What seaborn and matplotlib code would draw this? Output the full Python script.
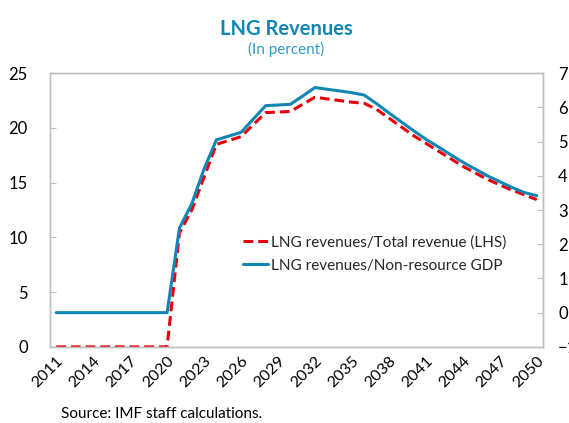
import matplotlib.pyplot as plt
import numpy as np
import pandas as pd
import seaborn as sns
from matplotlib.ticker import FixedLocator

years = list(range(2011, 2051))

# LNG revenues / total revenue (LHS, percent)
total_rev = [0, 0, 0, 0, 0, 0, 0, 0, 0, 0,
             10.4, 12.5, 15.5, 18.5, 18.85, 19.2, 20.3, 21.4, 21.45, 21.5,
             22.15, 22.8, 22.65, 22.5, 22.35, 22.25, 21.7, 20.9, 20.1, 19.3,
             18.6, 17.9, 17.2, 16.5, 15.9, 15.3, 14.8, 14.3, 13.9, 13.45]

# LNG revenues / non-resource GDP (RHS, percent)
nonres_gdp = [0, 0, 0, 0, 0, 0, 0, 0, 0, 0,
              2.47, 3.18, 4.2, 5.05, 5.16, 5.27, 5.66, 6.05, 6.07, 6.09,
              6.33, 6.58, 6.53, 6.48, 6.43, 6.36, 6.11, 5.84, 5.58, 5.32,
              5.07, 4.85, 4.62, 4.40, 4.20, 4.00, 3.83, 3.66, 3.51, 3.42]

df = pd.DataFrame({"year": years, "total": total_rev, "gdp": nonres_gdp})

sns.set_style("white")
plt.rcParams["font.family"] = ["Lato", "DejaVu Sans"]

red = "#E8000B"
blue = "#0F86B4"
grey = "#BFBFBF"

fig = plt.figure(figsize=(5.69, 4.23), dpi=100)
ax = fig.add_axes([0.088, 0.18, 0.866, 0.647])
ax2 = ax.twinx()

sns.lineplot(data=df, x="year", y="total", ax=ax, color=red, lw=2.2,
             linestyle=(0, (3.2, 1.6)), label="LNG revenues/Total revenue (LHS)", legend=False)
sns.lineplot(data=df, x="year", y="gdp", ax=ax2, color=blue, lw=2.2,
             label="LNG revenues/Non-resource GDP", legend=False)

ax.set_xlim(2010.5, 2050.5)
ax.set_ylim(0, 25)
ax2.set_ylim(-1, 7)
ax.set_yticks(range(0, 26, 5))
ax2.set_yticks(range(-1, 8))
ax.set_xticks(years[::3])
ax.set_xticklabels([str(y) for y in years[::3]], rotation=45, ha="right",
                   rotation_mode="anchor")
ax.xaxis.set_minor_locator(FixedLocator(np.arange(2010.5, 2051, 1)))

ax.set_xlabel("")
ax.set_ylabel("")
ax2.set_ylabel("")

ax.tick_params(axis="x", which="major", length=0, labelsize=11.5, pad=5, colors="black")
ax.tick_params(axis="x", which="minor", direction="in", length=4, color=grey, width=0.8)
ax.tick_params(axis="y", direction="in", length=4, color=grey, labelsize=12, pad=16,
               labelcolor="black")
ax2.tick_params(axis="y", direction="in", length=4, color=grey, labelsize=12, pad=11,
                labelcolor="black")
for a in (ax, ax2):
    for s in a.spines.values():
        s.set_color(grey)
        s.set_linewidth(1.0)

h1, l1 = ax.get_legend_handles_labels()
h2, l2 = ax2.get_legend_handles_labels()
ax2.legend(h1 + h2, l1 + l2, loc="upper left", bbox_to_anchor=(0.38, 0.43),
           frameon=False, fontsize=11, handlelength=1.6, handletextpad=0.2,
           labelspacing=0.6, borderaxespad=0)

fig.text(0.503, 0.932, "LNG Revenues", ha="center", va="center", fontsize=14.5,
         fontweight="bold", color=blue)
fig.text(0.503, 0.882, "(In percent)", ha="center", va="center", fontsize=11,
         color="#2E9AC9")
fig.text(0.108, 0.022, "Source: IMF staff calculations.", ha="left", va="center",
         fontsize=11, color="black")

fig.savefig("out.png", dpi=100)
